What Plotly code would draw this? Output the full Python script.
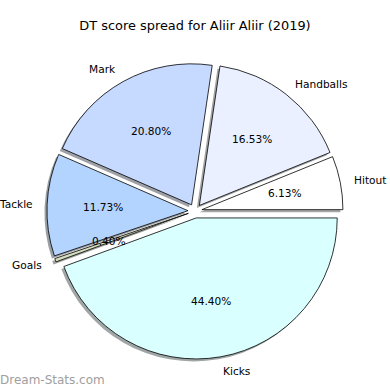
import numpy as np
import plotly.graph_objects as go

# ---- data ----
labels = ["Hitout", "Handballs", "Mark", "Tackle", "Goals", "Kicks"]
values = [6.13, 16.53, 20.80, 11.73, 0.40, 44.40]
colors = ["#FFFFFF", "#EAF0FF", "#C6D9FF", "#B3D4FF", "#D4DDBE", "#D9FFFF"]
explode = [0.05, 0.05, 0.05, 0.05, 0.05, 0.05]
title = "DT score spread for Aliir Aliir (2019)"
watermark = "Dream-Stats.com"

# ---- layout constants (pixels) ----
W = H = 390
CX, CY, R = 195.0, 211.0, 141.0
SHX, SHY = -2.5, 2.5  # shadow offset (px, y downwards)
FONT = "DejaVu Sans"
FS = 10.6

maxpull = max(explode)
half = R * (1 + maxpull)
total = sum(values)
# plotly counterclockwise: first slice spans [rotation, rotation + a0] clockwise from 12 o'clock
rot = 90 - 360 * values[0] / total


def dom(cx, cy):
    return dict(x=[(cx - half) / W, (cx + half) / W],
                y=[(H - cy - half) / H, (H - cy + half) / H])


def shadow_col(hexc):
    r, g, b = (int(hexc[i:i + 2], 16) for i in (1, 3, 5))
    f = lambda c: int(round(255 * 0.5 + 0.5 * 0.3 * c))
    return f"rgb({f(r)},{f(g)},{f(b)})"


pcts = [f"{v / total * 100:.2f}%" for v in values]

fig = go.Figure()
# shadow
fig.add_trace(go.Pie(
    labels=labels, values=values, sort=False, direction="counterclockwise",
    rotation=rot, pull=explode, textinfo="none", hoverinfo="skip",
    marker=dict(colors=[shadow_col(c) for c in colors], line=dict(width=0)),
    domain=dom(CX + SHX, CY + SHY), showlegend=False,
))
# main pie
fig.add_trace(go.Pie(
    labels=labels, values=values, sort=False, direction="counterclockwise",
    rotation=rot, pull=explode, textinfo="none",
    marker=dict(colors=colors, line=dict(color="black", width=0.8)),
    domain=dom(CX, CY), showlegend=False,
))

annotations = []
cum = 0.0
for lab, v, p, e in zip(labels, values, pcts, explode):
    a0 = cum / total * 360
    cum += v
    a1 = cum / total * 360
    th = np.deg2rad((a0 + a1) / 2)
    c, s = np.cos(th), np.sin(th)
    lx = CX + R * (1.1 + e) * c
    ly = CY - R * (1.1 + e) * s
    annotations.append(dict(
        x=lx / W, y=1 - ly / H, xref="paper", yref="paper", text=lab,
        showarrow=False, xanchor="left" if c > 0 else "right", yanchor="middle",
        xshift=-2 if c > 0 else 2,
        font=dict(family=FONT, size=FS, color="black")))
    px = CX + R * (0.6 + e) * c
    py = CY - R * (0.6 + e) * s
    annotations.append(dict(
        x=px / W, y=1 - py / H, xref="paper", yref="paper", text=p,
        showarrow=False, xanchor="center", yanchor="middle",
        font=dict(family=FONT, size=FS, color="black")))

annotations.append(dict(
    x=0, y=1 - 380 / H, xref="paper", yref="paper", text=watermark,
    showarrow=False, xanchor="left", yanchor="middle", xshift=-2,
    font=dict(family=FONT, size=12, color="#a0a0a0")))

fig.update_layout(
    width=W, height=H, margin=dict(l=0, r=0, t=0, b=0),
    paper_bgcolor="white", plot_bgcolor="white",
    title=dict(text=title, x=0.5, xanchor="center", y=1 - 25 / H, yanchor="middle",
               font=dict(family=FONT, size=12.9, color="black")),
    annotations=annotations, showlegend=False,
)

fig.write_html("out.html", config={"displayModeBar": False},
               post_script="document.body.style.margin='0';")
